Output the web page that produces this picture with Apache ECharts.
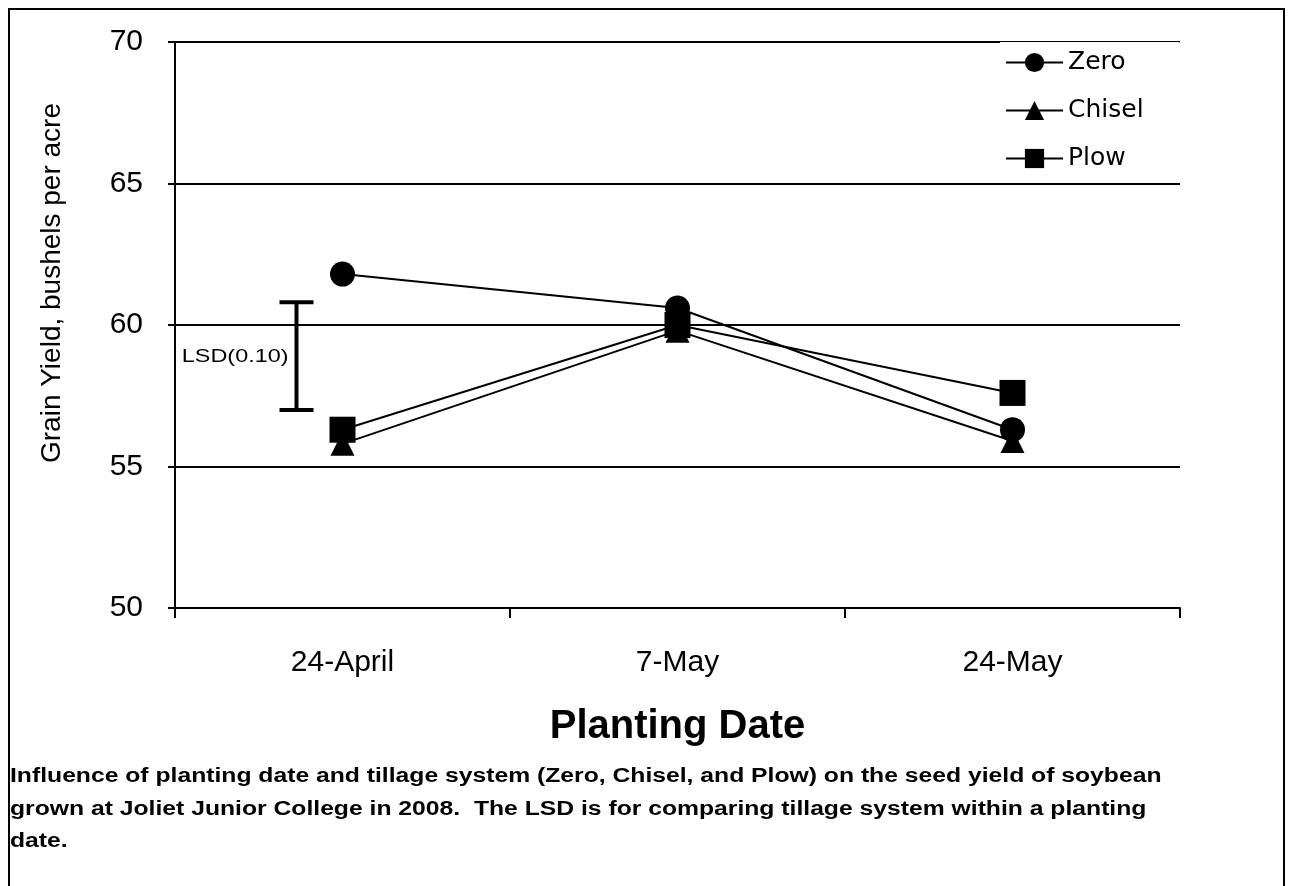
<!DOCTYPE html>
<html><head><meta charset="utf-8">
<script src="https://cdn.jsdelivr.net/npm/echarts@6/dist/echarts.min.js"></script>
<style>html,body{margin:0;padding:0;background:#fff}#c{width:1291px;height:886px}</style>
</head><body><div id="c"></div>
<script>
var categories = ['24-April', '7-May', '24-May'];
var zero = [61.8, 60.6, 56.3];
var chisel = [55.8, 59.8, 55.9];
var plow = [56.3, 60.0, 57.6];
var lsdLow = 57.0, lsdHigh = 60.8;
var lsdLabel = 'LSD(0.10)';
var yTicks = {min: 50, max: 70, interval: 5};
var yAxisTitle = 'Grain Yield, bushels per acre';
var xAxisTitle = 'Planting Date';
var captionLines = [
  'Influence of planting date and tillage system (Zero, Chisel, and Plow) on the seed yield of soybean',
  'grown at Joliet Junior College in 2008.  The LSD is for comparing tillage system within a planting',
  'date.'
];
var FONT = 'Liberation Sans, Arial, sans-serif';
var chart = echarts.init(document.getElementById('c'));
function lineSeries(name, data, symbol, size) {
  return {
    name: name, type: 'line', data: data, symbol: symbol, symbolSize: size,
    lineStyle: {color: '#000', width: 2}, itemStyle: {color: '#000'},
    emphasis: {disabled: true}, z: 3
  };
}
var capStyle = {fontSize: 20, fontWeight: 'bold', fill: '#000', fontFamily: FONT};
var option = {
  animation: false,
  backgroundColor: '#fff',
  grid: {left: 175, right: 111, top: 42, bottom: 278},
  legend: {
    data: ['Zero', 'Chisel', 'Plow'], orient: 'vertical', left: 1000, top: 42,
    itemWidth: 57, itemHeight: 24, itemGap: 23,
    textStyle: {fontSize: 25, color: '#000', fontFamily: 'DejaVu Sans, sans-serif'},
    backgroundColor: '#fff', padding: [8, 36, 12, 5]
  },
  xAxis: {
    type: 'category', data: categories, boundaryGap: true,
    axisLine: {lineStyle: {color: '#000', width: 2}},
    axisTick: {show: true, length: 10, lineStyle: {color: '#000', width: 2}},
    axisLabel: {fontSize: 30, color: '#000', margin: 40, fontFamily: FONT},
    name: xAxisTitle, nameLocation: 'middle', nameGap: 99,
    nameTextStyle: {fontSize: 40, fontWeight: 'bold', color: '#000', fontFamily: FONT}
  },
  yAxis: {
    type: 'value', min: yTicks.min, max: yTicks.max, interval: yTicks.interval,
    axisLine: {show: true, lineStyle: {color: '#000', width: 2}},
    axisTick: {show: true, length: 7, lineStyle: {color: '#000', width: 2}},
    axisLabel: {fontSize: 30, color: '#000', margin: 32, fontFamily: FONT},
    splitLine: {show: true, lineStyle: {color: '#000', width: 2}}
  },
  series: [
    lineSeries('Zero', zero, 'circle', 25),
    lineSeries('Chisel', chisel, 'triangle', 24),
    lineSeries('Plow', plow, 'rect', 26),
    {
      type: 'custom', data: [[0, lsdLow, lsdHigh]], z: 2,
      renderItem: function (params, api) {
        var lo = api.coord([api.value(0), api.value(1)]);
        var hi = api.coord([api.value(0), api.value(2)]);
        var x = lo[0] - 46;
        var cap = 17;
        var st = {stroke: '#000', lineWidth: 4};
        return {type: 'group', children: [
          {type: 'line', shape: {x1: x, y1: hi[1], x2: x, y2: lo[1]}, style: st},
          {type: 'line', shape: {x1: x - cap, y1: hi[1], x2: x + cap, y2: hi[1]}, style: st},
          {type: 'line', shape: {x1: x - cap, y1: lo[1], x2: x + cap, y2: lo[1]}, style: st},
          {type: 'text', x: x - 8, y: (hi[1] + lo[1]) / 2 + 1, scaleX: 1.3,
           style: {text: lsdLabel, align: 'right', verticalAlign: 'middle', fontSize: 18, fill: '#000', fontFamily: FONT}}
        ]};
      }
    }
  ],
  graphic: [
    {type: 'rect', shape: {x: 9, y: 9, width: 1275, height: 900}, style: {fill: 'none', stroke: '#000', lineWidth: 2}, z: 0},
    {type: 'text', x: 52, y: 283, rotation: Math.PI / 2,
     style: {text: yAxisTitle, align: 'center', verticalAlign: 'middle', fontSize: 28, fill: '#000', fontFamily: FONT}},
    {type: 'text', x: 10, y: 766, scaleX: 1.235, style: Object.assign({text: captionLines[0]}, capStyle)},
    {type: 'text', x: 10, y: 799, scaleX: 1.235, style: Object.assign({text: captionLines[1]}, capStyle)},
    {type: 'text', x: 10, y: 831, scaleX: 1.235, style: Object.assign({text: captionLines[2]}, capStyle)}
  ]
};
chart.setOption(option);
</script></body></html>
